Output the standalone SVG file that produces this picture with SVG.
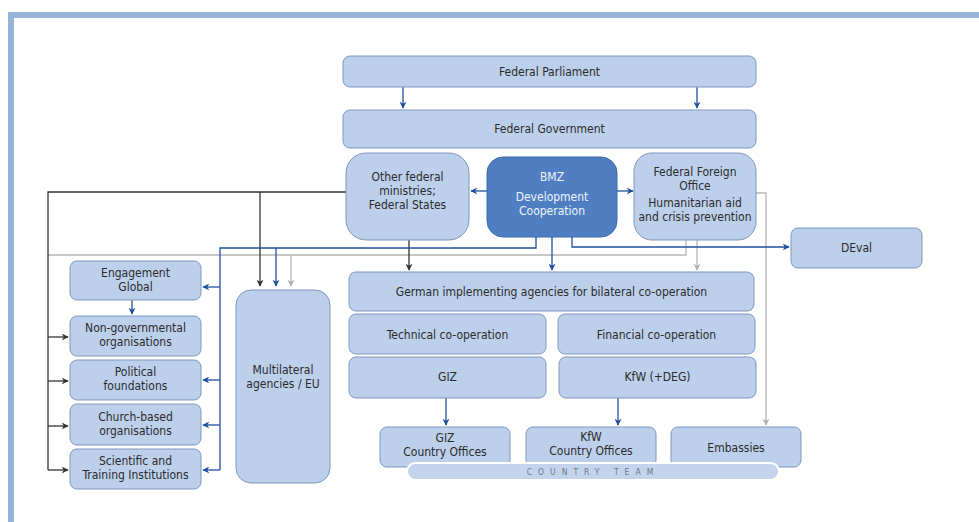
<svg xmlns="http://www.w3.org/2000/svg" width="979" height="522" viewBox="0 0 979 522">
<style>
.n{fill:#bcd0ec;stroke:#7f97bd;stroke-width:1}
.b{fill:#4f7fc2;stroke:#3d6aad;stroke-width:1}
text{font-family:"Liberation Sans Narrow","DejaVu Sans Condensed","Liberation Sans",sans-serif;font-size:12px;fill:#2b2b2b;text-anchor:middle}
.w{fill:#eef3fb}
.ct{font-size:8.5px;fill:#6d7a8c;letter-spacing:6px}
.lb{fill:none;stroke:#1f4f9e;stroke-width:1.3}
.lk{fill:none;stroke:#333;stroke-width:1.3}
.lg{fill:none;stroke:#b5b5b5;stroke-width:1.3}
</style>
<defs>
<marker id="ab" viewBox="0 0 10 10" refX="9" refY="5" markerWidth="7" markerHeight="7" orient="auto" markerUnits="userSpaceOnUse"><path d="M0,0 L10,5 L0,10 L3,5 z" fill="#1f4f9e"/></marker>
<marker id="ak" viewBox="0 0 10 10" refX="9" refY="5" markerWidth="7" markerHeight="7" orient="auto" markerUnits="userSpaceOnUse"><path d="M0,0 L10,5 L0,10 L3,5 z" fill="#333"/></marker>
<marker id="ag" viewBox="0 0 10 10" refX="9" refY="5" markerWidth="7" markerHeight="7" orient="auto" markerUnits="userSpaceOnUse"><path d="M0,0 L10,5 L0,10 L3,5 z" fill="#b0b0b0"/></marker>
</defs>
<rect width="979" height="522" fill="#fff"/>
<path d="M11,522 V15 H979" fill="none" stroke="#97b3da" stroke-width="6"/>

<g id="connectors">
<path class="lb" d="M403,87 V108" marker-end="url(#ab)"/>
<path class="lb" d="M697,87 V108" marker-end="url(#ab)"/>
<path class="lb" d="M487,191 H471" marker-end="url(#ab)"/>
<path class="lb" d="M617,191 H633" marker-end="url(#ab)"/>
<path class="lg" d="M48,255 H686 V240"/>
<path class="lg" d="M291,255 V286" marker-end="url(#ag)"/>
<path class="lg" d="M697,240 V270" marker-end="url(#ag)"/>
<path class="lg" d="M756,193 H766 V425" marker-end="url(#ag)"/>
<path class="lk" d="M346,192 H48 V470"/>
<path class="lk" d="M260,192 V286" marker-end="url(#ak)"/>
<path class="lk" d="M409,240 V270" marker-end="url(#ak)"/>
<path class="lk" d="M48,337 H68" marker-end="url(#ak)"/>
<path class="lk" d="M48,381 H68" marker-end="url(#ak)"/>
<path class="lk" d="M48,426 H68" marker-end="url(#ak)"/>
<path class="lk" d="M48,470 H68" marker-end="url(#ak)"/>
<path class="lb" d="M536,237 V248 H220 V470"/>
<path class="lb" d="M276,248 V286" marker-end="url(#ab)"/>
<path class="lb" d="M220,287 H203" marker-end="url(#ab)"/>
<path class="lb" d="M220,380 H203" marker-end="url(#ab)"/>
<path class="lb" d="M220,425 H203" marker-end="url(#ab)"/>
<path class="lb" d="M220,470 H203" marker-end="url(#ab)"/>
<path class="lb" d="M552,237 V270" marker-end="url(#ab)"/>
<path class="lb" d="M572,237 V247 H789" marker-end="url(#ab)"/>
<path class="lb" d="M132,300 V314" marker-end="url(#ab)"/>
<path class="lb" d="M446,398 V425" marker-end="url(#ab)"/>
<path class="lb" d="M618,398 V425" marker-end="url(#ab)"/>
</g>

<g id="parliament"><rect class="n" x="343" y="56" width="413" height="31" rx="7"/><text x="549.5" y="76">Federal Parliament</text></g>
<g id="government"><rect class="n" x="343" y="110" width="413" height="38" rx="7"/><text x="549.5" y="133">Federal Government</text></g>
<g id="ministries"><rect class="n" x="346" y="153" width="123" height="87" rx="20"/><text x="407.5" y="181">Other federal</text><text x="407.5" y="195">ministries;</text><text x="407.5" y="209">Federal States</text></g>
<g id="bmz"><rect class="b" x="487" y="157" width="130" height="80" rx="16"/><text class="w" x="552" y="181">BMZ</text><text class="w" x="552" y="201">Development</text><text class="w" x="552" y="215">Cooperation</text></g>
<g id="foreign"><rect class="n" x="634" y="153" width="122" height="87" rx="18"/><text x="695" y="176">Federal Foreign</text><text x="695" y="190">Office</text><text x="695" y="207">Humanitarian aid</text><text x="695" y="221">and crisis prevention</text></g>
<g id="deval"><rect class="n" x="791" y="228" width="131" height="40" rx="7"/><text x="856.5" y="252">DEval</text></g>
<g id="engagement"><rect class="n" x="70" y="261" width="131" height="39" rx="7"/><text x="135.5" y="277">Engagement</text><text x="135.5" y="291">Global</text></g>
<g id="ngo"><rect class="n" x="70" y="316" width="131" height="40" rx="7"/><text x="135.5" y="332">Non-governmental</text><text x="135.5" y="346">organisations</text></g>
<g id="political"><rect class="n" x="70" y="360" width="131" height="40" rx="7"/><text x="135.5" y="376">Political</text><text x="135.5" y="390">foundations</text></g>
<g id="church"><rect class="n" x="70" y="404" width="131" height="41" rx="7"/><text x="135.5" y="421">Church-based</text><text x="135.5" y="435">organisations</text></g>
<g id="scientific"><rect class="n" x="70" y="449" width="131" height="40" rx="7"/><text x="135.5" y="465">Scientific and</text><text x="135.5" y="479">Training Institutions</text></g>
<g id="multilateral"><rect class="n" x="236" y="290" width="94" height="193" rx="15"/><text x="283" y="374">Multilateral</text><text x="283" y="388">agencies / EU</text></g>
<g id="implementing"><rect class="n" x="349" y="272" width="405" height="39" rx="7"/><text x="551.5" y="296">German implementing agencies for bilateral co-operation</text></g>
<g id="technical"><rect class="n" x="349" y="314" width="197" height="40" rx="7"/><text x="447.5" y="339">Technical co-operation</text></g>
<g id="giz"><rect class="n" x="349" y="357" width="197" height="41" rx="7"/><text x="447.5" y="381">GIZ</text></g>
<g id="financial"><rect class="n" x="558" y="314" width="197" height="40" rx="7"/><text x="656.5" y="339">Financial co-operation</text></g>
<g id="kfw"><rect class="n" x="559" y="357" width="197" height="41" rx="7"/><text x="657.5" y="381">KfW (+DEG)</text></g>
<g id="giz-offices"><rect class="n" x="380" y="427" width="130" height="40" rx="7"/><text x="445" y="442">GIZ</text><text x="445" y="456">Country Offices</text></g>
<g id="kfw-offices"><rect class="n" x="526" y="427" width="130" height="40" rx="7"/><text x="591" y="441">KfW</text><text x="591" y="455">Country Offices</text></g>
<g id="embassies"><rect class="n" x="671" y="427" width="130" height="40" rx="7"/><text x="736" y="452">Embassies</text></g>
<g id="country-team"><rect x="407" y="463" width="372" height="17" rx="8.5" fill="#c3d4ec" stroke="#fff" stroke-width="2"/><text class="ct" x="593" y="475">COUNTRY TEAM</text></g>
</svg>
